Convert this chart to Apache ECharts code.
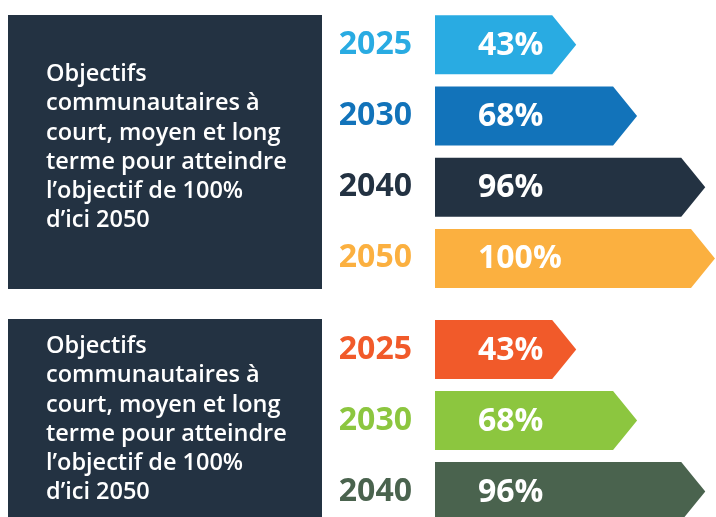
<!DOCTYPE html>
<html>
<head>
<meta charset="utf-8">
<script src="https://cdn.jsdelivr.net/npm/echarts@6/dist/echarts.min.js"></script>
<style>
  html, body { margin: 0; padding: 0; background: #fff; }
  #chart { width: 716px; height: 517px; }
</style>
</head>
<body>
<div id="chart"></div>
<script>
// données
var yearsTop = ['2025', '2030', '2040', '2050'];
var valuesTop = [43, 68, 96, 100];
var yearsBottom = ['2025', '2030', '2040'];
var valuesBottom = [43, 68, 96];
var panelText = 'Objectifs\ncommunautaires à\ncourt, moyen et long\nterme pour atteindre\nl\u2019objectif de 100%\nd\u2019ici 2050';

// couleurs
var colorsTop = ['#29abe2', '#1273ba', '#233242', '#fbb040'];
var colorsBottom = ['#f15a2a', '#8cc63f', '#4a634e'];
var boxColor = '#233242';

var AXIS_MIN = -15;
var FONT = '"Open Sans", "Noto Sans", sans-serif';

var chart = echarts.init(document.getElementById('chart'));

function toData(values, colors) {
  return values.map(function (v, i) {
    return { value: [v, i], itemStyle: { color: colors[i] } };
  });
}

// flèche + étiquette %
function renderArrow(params, api) {
  var v = api.value(0), idx = api.value(1);
  var tip = api.coord([v, idx]);
  var base = api.coord([AXIS_MIN, idx]);
  var h = 59, d = 24;
  var y0 = tip[1] - h / 2;
  return {
    type: 'group',
    children: [
      {
        type: 'polygon',
        shape: {
          points: [
            [base[0], y0], [tip[0] - d, y0], [tip[0], tip[1]],
            [tip[0] - d, y0 + h], [base[0], y0 + h]
          ]
        },
        style: { fill: api.visual('color') }
      },
      {
        type: 'text',
        style: {
          text: v + '%',
          x: base[0] + 43,
          y: tip[1] + 1,
          align: 'left',
          verticalAlign: 'middle',
          fill: '#fff',
          fontFamily: FONT,
          fontWeight: 'bold',
          fontSize: 32
        }
      }
    ]
  };
}

function yAxis(gridIndex, years, colors) {
  return {
    type: 'category',
    gridIndex: gridIndex,
    data: years,
    inverse: true,
    axisLine: { show: false },
    axisTick: { show: false },
    splitLine: { show: false },
    axisLabel: {
      margin: 23,
      fontFamily: FONT,
      fontWeight: 'bold',
      fontSize: 32,
      color: function (val, i) { return colors[i]; }
    }
  };
}

function xAxis(gridIndex) {
  return {
    type: 'value',
    gridIndex: gridIndex,
    min: AXIS_MIN,
    max: 100,
    show: false
  };
}

chart.setOption({
  animation: false,
  grid: [
    { left: 435, top: 9, width: 280, height: 285, outerBoundsMode: 'none' },
    { left: 435, top: 314, width: 280, height: 213, outerBoundsMode: 'none' }
  ],
  xAxis: [xAxis(0), xAxis(1)],
  yAxis: [yAxis(0, yearsTop, colorsTop), yAxis(1, yearsBottom, colorsBottom)],
  series: [
    {
      type: 'custom',
      xAxisIndex: 0, yAxisIndex: 0,
      encode: { x: 0, y: 1 },
      renderItem: renderArrow,
      data: toData(valuesTop, colorsTop)
    },
    {
      type: 'custom',
      xAxisIndex: 1, yAxisIndex: 1,
      encode: { x: 0, y: 1 },
      renderItem: renderArrow,
      data: toData(valuesBottom, colorsBottom)
    }
  ],
  graphic: [
    { type: 'rect', shape: { x: 8, y: 15, width: 314, height: 274 }, style: { fill: boxColor }, z: -1 },
    { type: 'rect', shape: { x: 8, y: 319, width: 314, height: 210 }, style: { fill: boxColor }, z: -1 },
    {
      type: 'text', x: 46, y: 60,
      style: { text: panelText, fill: '#fff', fontFamily: FONT, fontWeight: 600, fontSize: 23.5, lineHeight: 29.2 }
    },
    {
      type: 'text', x: 46, y: 332,
      style: { text: panelText, fill: '#fff', fontFamily: FONT, fontWeight: 600, fontSize: 23.5, lineHeight: 29.2 }
    }
  ]
});
</script>
</body>
</html>
